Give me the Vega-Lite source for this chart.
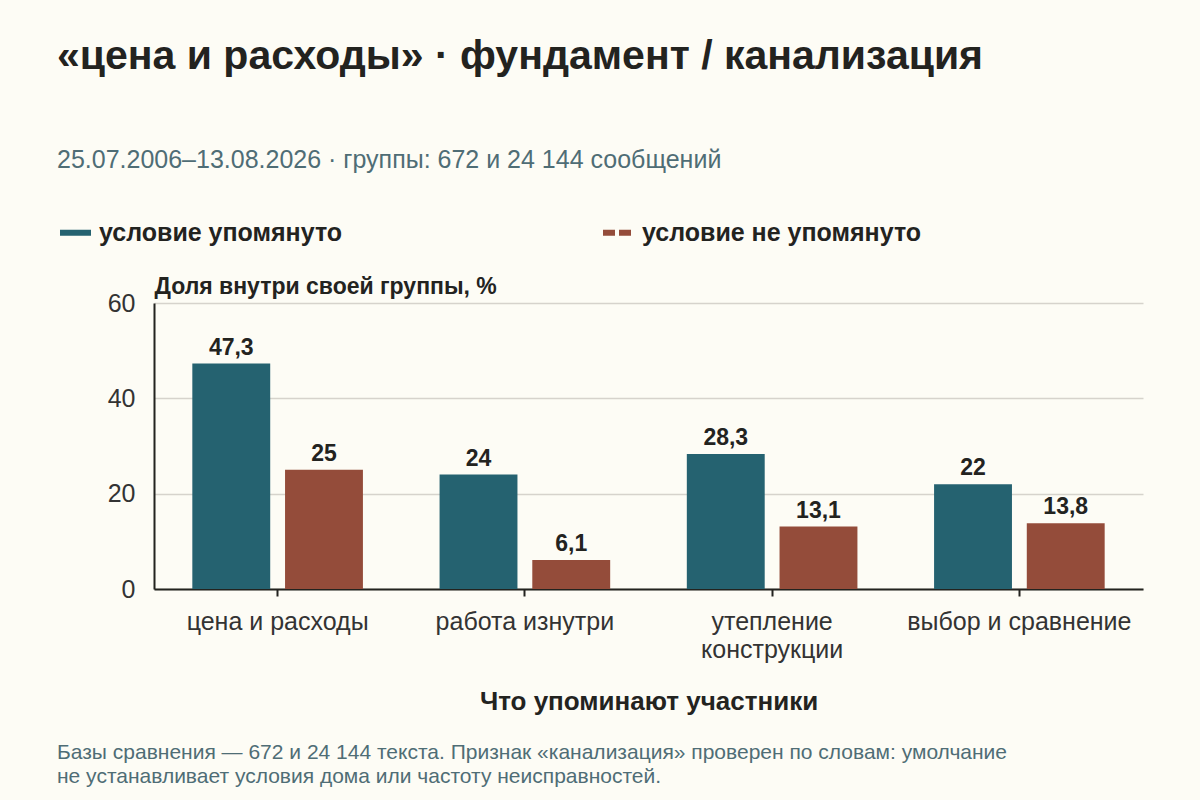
{
  "$schema": "https://vega.github.io/schema/vega-lite/v6.json",
  "background": "#fdfcf5",
  "padding": {"left": 57, "top": 36, "right": 57, "bottom": 30},
  "config": {
    "font": "Liberation Sans",
    "view": {"stroke": null},
    "locale": {
      "number": {"decimal": ",", "thousands": " ", "grouping": [3], "currency": ["", ""]}
    },
    "legend": {
      "title": null,
      "orient": "none",
      "legendX": -97,
      "legendY": -89,
      "direction": "horizontal",
      "columns": 2,
      "columnPadding": 248,
      "padding": 0,
      "symbolType": "stroke",
      "symbolSize": 961,
      "symbolStrokeWidth": 6,
      "labelFontSize": 25,
      "labelFontWeight": "bold",
      "labelColor": "#23231f",
      "labelOffset": 5,
      "labelLimit": 500
    }
  },
  "title": {
    "text": "«цена и расходы» · фундамент / канализация",
    "subtitle": "25.07.2006–13.08.2026 · группы: 672 и 24 144 сообщений",
    "anchor": "start",
    "frame": "bounds",
    "font": "Liberation Sans",
    "fontSize": 41,
    "fontWeight": "bold",
    "color": "#23231f",
    "subtitleFont": "Liberation Sans",
    "subtitleFontSize": 25,
    "subtitleColor": "#4f6d75",
    "subtitlePadding": 70,
    "offset": 40
  },
  "vconcat": [
    {
      "width": 989,
      "height": 286,
      "title": {
        "text": [
          "Базы сравнения — 672 и 24 144 текста. Признак «канализация» проверен по словам: умолчание",
          "не устанавливает условия дома или частоту неисправностей."
        ],
        "orient": "bottom",
        "anchor": "start",
        "frame": "group",
        "dx": -97,
        "fontSize": 21,
        "fontWeight": "normal",
        "color": "#4f6d75",
        "lineHeight": 24,
        "offset": 28
      },
      "data": {
        "values": [
          {"category": "цена и расходы", "group": "условие упомянуто", "share": 47.3},
          {"category": "цена и расходы", "group": "условие не упомянуто", "share": 25},
          {"category": "работа изнутри", "group": "условие упомянуто", "share": 24},
          {"category": "работа изнутри", "group": "условие не упомянуто", "share": 6.1},
          {"category": "утепление конструкции", "group": "условие упомянуто", "share": 28.3},
          {"category": "утепление конструкции", "group": "условие не упомянуто", "share": 13.1},
          {"category": "выбор и сравнение", "group": "условие упомянуто", "share": 22},
          {"category": "выбор и сравнение", "group": "условие не упомянуто", "share": 13.8}
        ]
      },
      "encoding": {
        "x": {
          "field": "category",
          "type": "nominal",
          "sort": null,
          "scale": {"paddingInner": 0.31, "paddingOuter": 0.155},
          "axis": {
            "title": "Что упоминают участники",
            "titleFontSize": 26,
            "titleFontWeight": "bold",
            "titleColor": "#23231f",
            "titlePadding": 26,
            "labelAngle": 0,
            "labelFontSize": 25,
            "labelColor": "#333333",
            "labelPadding": 13,
            "labelLineHeight": 28,
            "labelLimit": 300,
            "labelExpr": "datum.value == 'утепление конструкции' ? ['утепление', 'конструкции'] : datum.value",
            "domainColor": "#23231f",
            "domainWidth": 2,
            "tickColor": "#23231f",
            "tickWidth": 2,
            "tickSize": 7,
            "grid": false
          }
        },
        "xOffset": {
          "field": "group",
          "type": "nominal",
          "sort": ["условие упомянуто", "условие не упомянуто"],
          "scale": {"paddingInner": 0.16, "paddingOuter": 0}
        },
        "y": {
          "field": "share",
          "type": "quantitative",
          "scale": {"domain": [0, 60]},
          "axis": {
            "title": "Доля внутри своей группы, %",
            "titleAngle": 0,
            "titleAlign": "left",
            "titleBaseline": "alphabetic",
            "titleX": 0,
            "titleY": -10,
            "titleFontSize": 23,
            "titleFontWeight": "bold",
            "titleColor": "#23231f",
            "values": [0, 20, 40, 60],
            "labelFontSize": 25,
            "labelColor": "#333333",
            "labelPadding": 19,
            "ticks": false,
            "domainColor": "#23231f",
            "domainWidth": 2,
            "gridColor": "#d6d3cc",
            "gridWidth": 1.5
          }
        }
      },
      "layer": [
        {
          "mark": {"type": "bar", "strokeWidth": 0},
          "encoding": {
            "color": {
              "field": "group",
              "type": "nominal",
              "sort": ["условие упомянуто", "условие не упомянуто"],
              "scale": {
                "domain": ["условие упомянуто", "условие не упомянуто"],
                "range": ["#256270", "#944c3a"]
              }
            },
            "stroke": {
              "field": "group",
              "type": "nominal",
              "sort": ["условие упомянуто", "условие не упомянуто"],
              "scale": {
                "domain": ["условие упомянуто", "условие не упомянуто"],
                "range": ["#256270", "#944c3a"]
              }
            },
            "strokeDash": {
              "field": "group",
              "type": "nominal",
              "sort": ["условие упомянуто", "условие не упомянуто"],
              "scale": {
                "domain": ["условие упомянуто", "условие не упомянуто"],
                "range": [[1, 0], [12, 4]]
              }
            }
          }
        },
        {
          "mark": {"type": "text", "baseline": "alphabetic", "dy": -9, "fontSize": 23, "fontWeight": "bold", "color": "#23231f"},
          "encoding": {
            "text": {"field": "share", "type": "quantitative", "format": ".1~f"}
          }
        }
      ]
    }
  ]
}
